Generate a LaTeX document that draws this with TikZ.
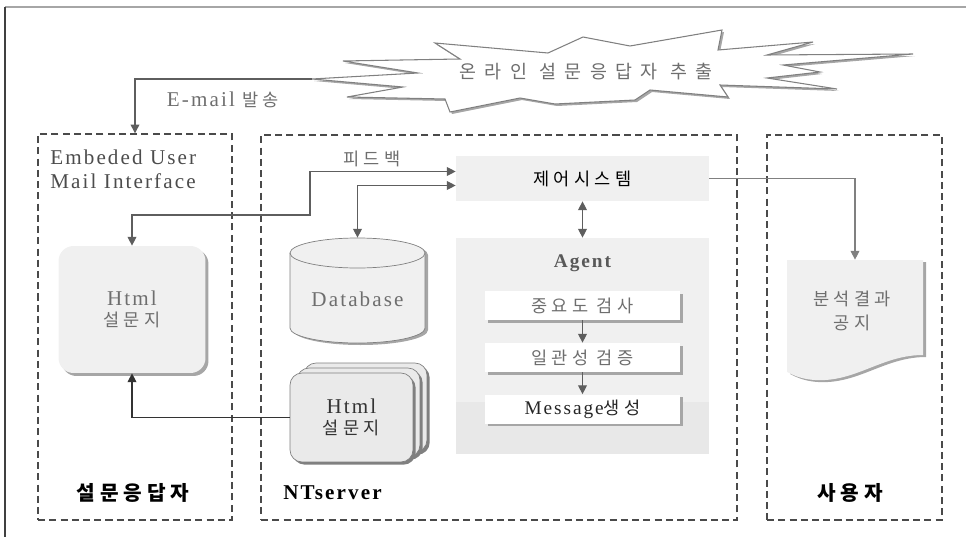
\documentclass[tikz,border=0pt]{standalone}
\usepackage{fontspec}
\setmainfont{Liberation Serif}[LetterSpace=10]
\newfontfamily\kr{Noto Sans CJK KR}[LetterSpace=25]
\newfontfamily\krwide{Noto Sans CJK KR}[LetterSpace=45]
\usetikzlibrary{arrows.meta,shadows,calc}
\definecolor{lightfill}{HTML}{F0F0F0}
\definecolor{bandfill}{HTML}{E8E8E8}
\definecolor{cardfill}{HTML}{EAEAEA}
\definecolor{linegray}{HTML}{5E5E5E}
\definecolor{textgray}{HTML}{6E6E6E}
\definecolor{shadowgray}{HTML}{A6A6A6}
\definecolor{dashgray}{HTML}{4A4A4A}
\newcommand{\latf}{\fontsize{12}{13.6}\selectfont}
\newcommand{\korf}{\kr\fontsize{10}{13.6}\selectfont}
\def\burstpath{(312,79) -- (403,87) -- (347,97) -- (445,99) -- (450,112) -- (520,98) -- (555,104) -- (635,100) -- (650,90) -- (728,97) -- (720,85) -- (837,89) -- (767,78) -- (820,72) -- (783,65) -- (913,54) -- (767,55) -- (813,42) -- (718,50) -- (722,30) -- (630,46) -- (583,37) -- (548,53) -- (435,43) -- (460,59) -- (343,61) -- (418,73) -- cycle}
\def\docpath{(787,260) -- (923,260) -- (923,355) .. controls (885,355) and (860,378) .. (825,380) .. controls (805,381) and (795,376) .. (787,372) -- cycle}

\begin{document}
\begin{tikzpicture}[x=0.02cm,y=-0.02cm,>={Triangle[length=5pt,width=5pt]},
grp/.style={draw=dashgray,line width=0.8pt,dash pattern=on 4pt off 2.4pt,inner sep=0pt},
txt/.style={text=textgray,inner sep=0pt,align=center,font=\latf},
arr/.style={draw=linegray,line width=0.6pt},
graybox/.style={fill=lightfill,inner sep=0pt},
chkbox/.style={fill=white,inner sep=0pt,minimum width=3.9cm,minimum height=0.58cm,
 drop shadow={shadow xshift=1.7pt,shadow yshift=-1.7pt,fill=shadowgray,opacity=1}},
card/.style={fill=cardfill,draw=gray,inner sep=0pt,rounded corners=0.24cm,minimum width=2.46cm,minimum height=1.78cm,
 drop shadow={shadow xshift=1.5pt,shadow yshift=-1.5pt,fill=black!50,opacity=1}}]
\useasboundingbox (0,0) rectangle (966,537);
\draw[gray!70,line width=0.7pt](5,7)--(966,7);
\draw[black!75,line width=0.7pt](5,7)--(5,537);
% groups
\node[grp,minimum width=3.88cm,minimum height=7.72cm](resp) at (135,327){};
\node[grp,minimum width=9.52cm,minimum height=7.7cm](server) at (499,327.5){};
\node[grp,minimum width=3.5cm,minimum height=7.7cm](user) at (854.5,327.5){};
\node[txt,anchor=north west,align=left,text=black!70](iface) at (50,150){Embeded User\\Mail Interface};
\node[txt,text=black](resplabel) at (133,493){\kr\fontsize{11.5}{14}\selectfont\bfseries 설문응답자};
\node[txt,text=black,anchor=west](serverlabel) at (283,493){\bfseries NTserver};
\node[txt,text=black](userlabel) at (850,493){\kr\fontsize{11.5}{14}\selectfont\bfseries 사용자};
% burst
\fill[shadowgray,shift={(2,2)}]\burstpath;
\draw[fill=white,draw=gray,line width=0.6pt]\burstpath;
\coordinate(tip) at (312,79);
\node[txt](burst) at (586,72){\krwide\fontsize{10.5}{13}\selectfont 온라인 설문응답자 추출};
\node[txt](mail) at (223,100){E-mail {\korf 발송}};
% server
\node[graybox,minimum width=5.06cm,minimum height=0.9cm](ctrl) at (582.5,178.5){\korf 제어시스템};
\node[graybox,minimum width=5.06cm,minimum height=4.32cm](agent) at (582.5,346){};
\fill[bandfill](agent.south west)rectangle($(agent.east)+(0,56)$);
\node[txt,text=black!65](agenttitle) at (582.5,263){\fontsize{11}{13}\selectfont\bfseries Agent};
\node[chkbox,txt](chk1) at (582.5,305.5){\korf 중요도 검사};
\node[chkbox,txt](chk2) at (582.5,357.5){\korf 일관성 검증};
\node[chkbox,txt,text=black!85](msg) at (582.5,409){\fontsize{11}{13}\selectfont Message{\korf 생성}};
\node[inner sep=0pt,minimum width=2.7cm,minimum height=2.1cm](db) at (357.5,290.5){};
\fill[shadowgray,shift={(3,2)}](290,253)--(290,328)arc(180:0:67.5 and 15)--(425,253)arc(0:-180:67.5 and 15)--cycle;
\draw[fill=lightfill,draw=gray](290,253)--(290,328)arc(180:0:67.5 and 15)--(425,253)arc(0:-180:67.5 and 15)--cycle;
\draw[gray](290,253)arc(180:0:67.5 and 15);
\node[txt](dbtext) at (357.5,299){Database};
\node[card](stack3) at (365.5,407.5){};
\node[card](stack2) at (358.5,412.5){};
\node[card,text=black!80,align=center](stack) at (351.5,417.5){\latf Html\\\korf 설문지};
% respondent
\node[fill=lightfill,inner sep=0pt,rounded corners=0.3cm,minimum width=2.94cm,minimum height=2.54cm,align=center,text=textgray,
 drop shadow={shadow xshift=1.7pt,shadow yshift=-1.7pt,fill=shadowgray,opacity=1}](html1) at (132,309.5){\latf Html\\\korf 설문지};
% user
\node[inner sep=0pt,minimum width=2.72cm,minimum height=2.24cm](doc) at (855,316){};
\fill[shadowgray,shift={(3,2)}]\docpath;
\fill[lightfill]\docpath;
\node[txt](doctext) at (852,311){\korf 분석결과\\\korf 공지};
% connectors
\draw[arr,->](tip)-|(resp.north);
\draw[arr,<->](html1.north)|-(310,215)|-($(ctrl.west)+(0,-7)$);
\draw[arr,<->](db.north)|-($(ctrl.west)+(0,7)$);
\node[txt](feedback) at (372,159){\korf 피드백};
\draw[arr,<->](ctrl.south)--(agent.north);
\draw[arr,->](chk1)--(chk2);
\draw[arr,->](chk2)--(msg);
\draw[arr,draw=gray,->](ctrl.east)-|(doc.north);
\draw[arr,draw=black!80,->](stack.west)-|(html1.south);
\end{tikzpicture}
\end{document}
